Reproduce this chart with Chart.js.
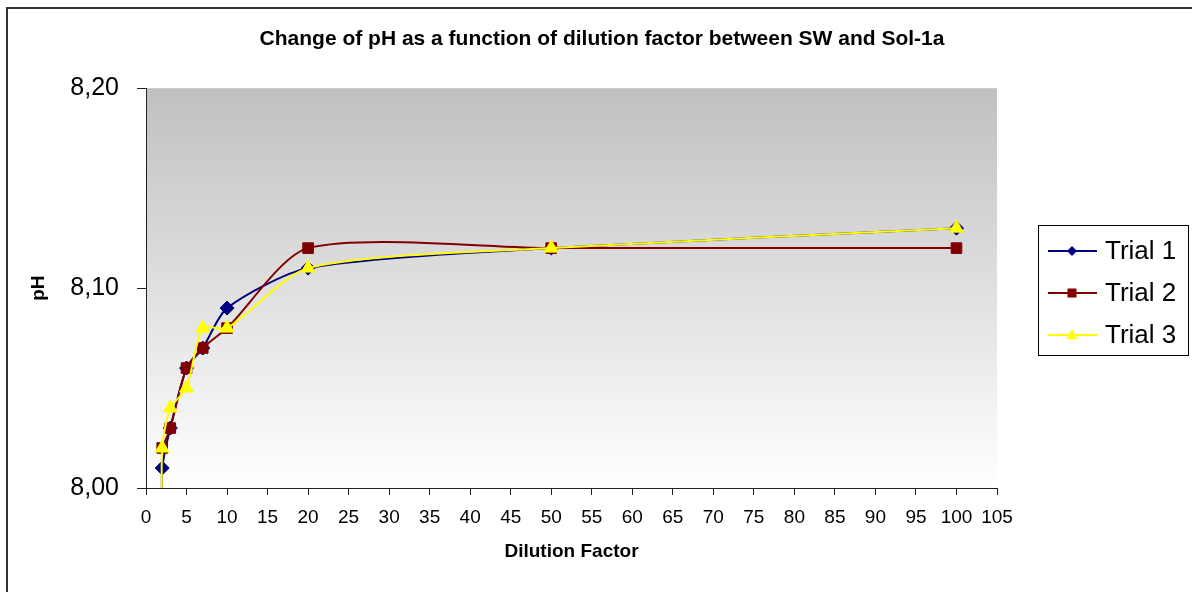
<!DOCTYPE html>
<html>
<head>
<meta charset="utf-8">
<title>pH vs dilution factor</title>
<script src="https://cdn.jsdelivr.net/npm/chart.js@4/dist/chart.umd.min.js"></script>
<style>
  html, body { margin: 0; padding: 0; background: #fff; }
  #wrap { width: 1192px; height: 592px; position: relative; }
</style>
</head>
<body>
<div id="wrap"><canvas id="phChart" width="1192" height="592"></canvas></div>
<script>
// ---------- Data ----------
const trialNames = ["Trial 1", "Trial 2", "Trial 3"];

// first point of trial 1 and 3 runs off below the axis
const dilution1 = [2, 2, 3, 5, 7, 10, 20, 50, 100];
const trial1 = [7.99, 8.01, 8.03, 8.06, 8.07, 8.09, 8.11, 8.12, 8.13];

const dilution2 = [2, 3, 5, 7, 10, 20, 50, 100];
const trial2 = [8.02, 8.03, 8.06, 8.07, 8.08, 8.12, 8.12, 8.12];

const dilution3 = [2, 2, 3, 5, 7, 10, 20, 50, 100];
const trial3 = [7.98, 8.02, 8.04, 8.05, 8.08, 8.08, 8.11, 8.12, 8.13];

const xTicks = [0, 105, 5];      // min, max, step
const yTicks = [8.0, 8.2, 0.1];  // min, max, step

const FONT = 'Arial, "Liberation Sans", sans-serif';

function toPoints(xs, ys) {
  return xs.map((x, i) => ({ x: x, y: ys[i] }));
}

// ---------- Small marker helper for the legend ----------
function marker(ctx, style, x, y, r, color) {
  ctx.fillStyle = color;
  ctx.beginPath();
  if (style === "rectRot") {
    ctx.moveTo(x, y - r); ctx.lineTo(x + r, y); ctx.lineTo(x, y + r); ctx.lineTo(x - r, y);
  } else if (style === "rect") {
    ctx.rect(x - r, y - r, 2 * r, 2 * r);
  } else {
    ctx.moveTo(x, y - r); ctx.lineTo(x + r * 0.95, y + r * 0.7); ctx.lineTo(x - r * 0.95, y + r * 0.7);
  }
  ctx.closePath();
  ctx.fill();
}

// ---------- Plugins ----------
const backdrop = {
  id: "backdrop",
  beforeDraw(chart) {
    const ctx = chart.ctx;
    const a = chart.chartArea;
    ctx.save();
    // outer frame (top + left only are visible)
    ctx.strokeStyle = "#333";
    ctx.lineWidth = 2;
    ctx.beginPath();
    ctx.moveTo(chart.width, 8);
    ctx.lineTo(7, 8);
    ctx.lineTo(7, chart.height);
    ctx.stroke();
    // grey -> white gradient inside the plot
    const g = ctx.createLinearGradient(0, a.top, 0, a.bottom);
    g.addColorStop(0, "#c0c0c0");
    g.addColorStop(1, "#ffffff");
    ctx.fillStyle = g;
    ctx.fillRect(a.left, a.top, a.right - a.left, a.bottom - a.top);
    ctx.restore();
  }
};

const boxLegend = {
  id: "boxLegend",
  afterDraw(chart) {
    const ctx = chart.ctx;
    const left = 1038, top = 225, w = 150, h = 130;
    const rows = [251, 293, 335];
    const sizes = [5, 4.5, 6];
    ctx.save();
    ctx.strokeStyle = "#000";
    ctx.lineWidth = 1;
    ctx.strokeRect(left + 0.5, top + 0.5, w, h);
    chart.data.datasets.forEach((ds, i) => {
      const y = rows[i];
      ctx.strokeStyle = ds.borderColor;
      ctx.lineWidth = 2;
      ctx.beginPath();
      ctx.moveTo(1048, y);
      ctx.lineTo(1097, y);
      ctx.stroke();
      marker(ctx, ds.pointStyle, 1072, y, sizes[i], ds.pointBackgroundColor);
      ctx.fillStyle = "#000";
      ctx.font = "26px " + FONT;
      ctx.textBaseline = "middle";
      ctx.textAlign = "left";
      ctx.fillText(ds.label, 1105, y + 1);
    });
    ctx.restore();
  }
};

// ---------- Chart ----------
const ctx = document.getElementById("phChart").getContext("2d");

new Chart(ctx, {
  type: "line",
  data: {
    datasets: [
      {
        label: trialNames[0],
        data: toPoints(dilution1, trial1),
        borderColor: "#000080",
        pointBackgroundColor: "#000080",
        pointBorderColor: "#000080",
        pointStyle: "rectRot",
        pointRadius: 7,
        order: 2
      },
      {
        label: trialNames[1],
        data: toPoints(dilution2, trial2),
        borderColor: "#800000",
        pointBackgroundColor: "#800000",
        pointBorderColor: "#800000",
        pointStyle: "rect",
        pointRadius: 7.5,
        order: 1
      },
      {
        label: trialNames[2],
        data: toPoints(dilution3, trial3),
        borderColor: "#ffff00",
        pointBackgroundColor: "#ffff00",
        pointBorderColor: "#ffff00",
        pointStyle: "triangle",
        pointRadius: 8,
        order: 0
      }
    ]
  },
  options: {
    responsive: false,
    animation: false,
    events: [],
    elements: {
      line: { borderWidth: 2, tension: 0.25, fill: false },
      point: { borderWidth: 1 }
    },
    layout: { padding: { left: 12, right: 0, top: 0, bottom: 0 } },
    plugins: {
      legend: { display: false },
      tooltip: { enabled: false },
      title: {
        display: true,
        text: "Change of pH as a function of dilution factor between SW and Sol-1a",
        color: "#000",
        font: { family: FONT, size: 21, weight: "bold" },
        padding: { top: 27, bottom: 36 }
      }
    },
    scales: {
      x: {
        type: "linear",
        min: xTicks[0],
        max: xTicks[1],
        afterFit: (s) => { s.height = 104; },
        ticks: {
          stepSize: xTicks[2],
          color: "#000",
          font: { family: FONT, size: 19 },
          padding: 11,
          maxRotation: 0
        },
        grid: { drawOnChartArea: false, drawTicks: true, tickLength: 7, color: "#222" },
        border: { display: true, color: "#222", width: 1 },
        title: {
          display: true,
          text: "Dilution Factor",
          color: "#000",
          font: { family: FONT, size: 19, weight: "bold" },
          padding: { top: 0, bottom: 29 }
        }
      },
      y: {
        min: yTicks[0],
        max: yTicks[1],
        afterFit: (s) => { s.width = 134; },
        ticks: {
          stepSize: yTicks[2],
          color: "#000",
          font: { family: FONT, size: 25 },
          padding: 18,
          callback: (v) => v.toFixed(2).replace(".", ",")
        },
        grid: { drawOnChartArea: false, drawTicks: true, tickLength: 9, color: "#222" },
        border: { display: true, color: "#222", width: 1 },
        title: {
          display: true,
          text: "pH",
          color: "#000",
          font: { family: FONT, size: 19, weight: "bold" },
          padding: { top: 15, bottom: 0 }
        }
      },
      // empty right-hand slot that holds the legend space
      side: {
        type: "linear",
        position: "right",
        display: true,
        afterFit: (s) => { s.width = 195; },
        ticks: { display: false },
        grid: { display: false },
        border: { display: false }
      }
    }
  },
  plugins: [backdrop, boxLegend]
});
</script>
</body>
</html>
